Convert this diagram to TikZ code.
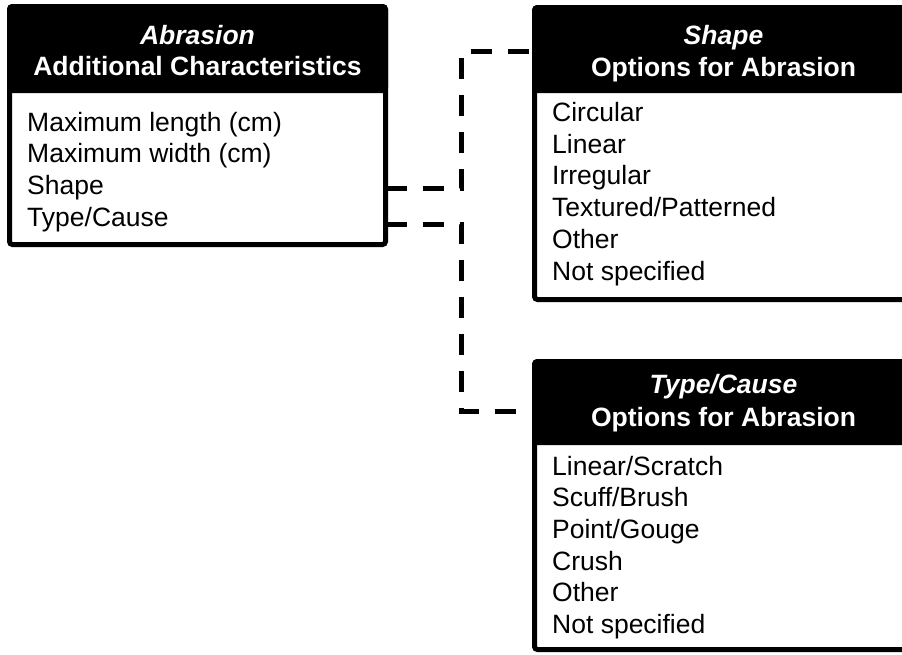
\documentclass[tikz,border=0pt]{standalone}
\usepackage{fontspec}
\setmainfont{Liberation Sans}
\begin{document}
\begin{tikzpicture}[x=1pt,y=-1pt,
  frame/.style={draw=black, line width=5pt, rounded corners=3pt,
    inner sep=0pt, outer sep=0pt},
  headfill/.style={fill=black, rounded corners=5pt, inner sep=0pt,
    outer sep=0pt, anchor=north west},
  title/.style={text=white, font=\fontsize{26.5}{31.7}\selectfont\bfseries,
    anchor=base, inner sep=0pt},
  item/.style={font=\fontsize{26.5}{31.7}\selectfont, anchor=base west,
    inner sep=0pt},
  conn/.style={line width=5pt, dash pattern=on 21pt off 16pt}
]
\clip (0,0) rectangle (902,654);

% black title bars
\node[headfill, minimum width=381pt, minimum height=89pt] (abrHead) at (7,4) {};
\node[headfill, minimum width=383pt, minimum height=88pt] (shpHead) at (532,5) {};
\node[headfill, minimum width=383pt, minimum height=86pt] (typHead) at (532,359) {};

% box outlines
\node[frame, minimum width=376pt, minimum height=238pt] (abr) at (197.5,125.5) {};
\node[frame, minimum width=378pt, minimum height=292pt] (shp) at (723.5,153.5) {};
\node[frame, minimum width=378pt, minimum height=288pt] (typ) at (723.5,505.5) {};

% titles
\node[title] (abrT1) at (197.5,44) {\itshape Abrasion};
\node[title] (abrT2) at (197.5,75) {Additional Characteristics};
\node[title] (shpT1) at (723.5,44.3) {\itshape Shape};
\node[title] (shpT2) at (723.5,76) {Options for Abrasion};
\node[title] (typT1) at (723.5,393.3) {\itshape Type/Cause};
\node[title] (typT2) at (723.5,426) {Options for Abrasion};

% list entries
\foreach \t [count=\i] in {Maximum length (cm), Maximum width (cm), Shape, Type/Cause}
  \node[item] (abr-\i) at (27,{131+31.7*(\i-1)}) {\t};
\foreach \t [count=\i] in {Circular, Linear, Irregular, Textured/Patterned, Other, Not specified}
  \node[item] (shp-\i) at (552,{121.5+31.7*(\i-1)}) {\t};
\foreach \t [count=\i] in {Linear/Scratch, Scuff/Brush, Point/Gouge, Crush, Other, Not specified}
  \node[item] (typ-\i) at (552,{475+31.7*(\i-1)}) {\t};

% dashed connectors
\coordinate (shapeOut) at ([yshift=-62.5pt]abr.east);
\coordinate (typeOut) at ([yshift=-98.5pt]abr.east);
\coordinate (shapeIn) at ([yshift=-2pt]shpHead.west);
\coordinate (typeIn) at ([yshift=-9pt]typHead.west);
\coordinate (bus) at (461,0);
\draw[conn] (shapeOut) -- (shapeOut -| bus) -- (bus |- shapeIn) -- (shapeIn);
\draw[conn] (typeOut) -- (typeOut -| bus) -- (bus |- typeIn) -- (typeIn);
\end{tikzpicture}
\end{document}
